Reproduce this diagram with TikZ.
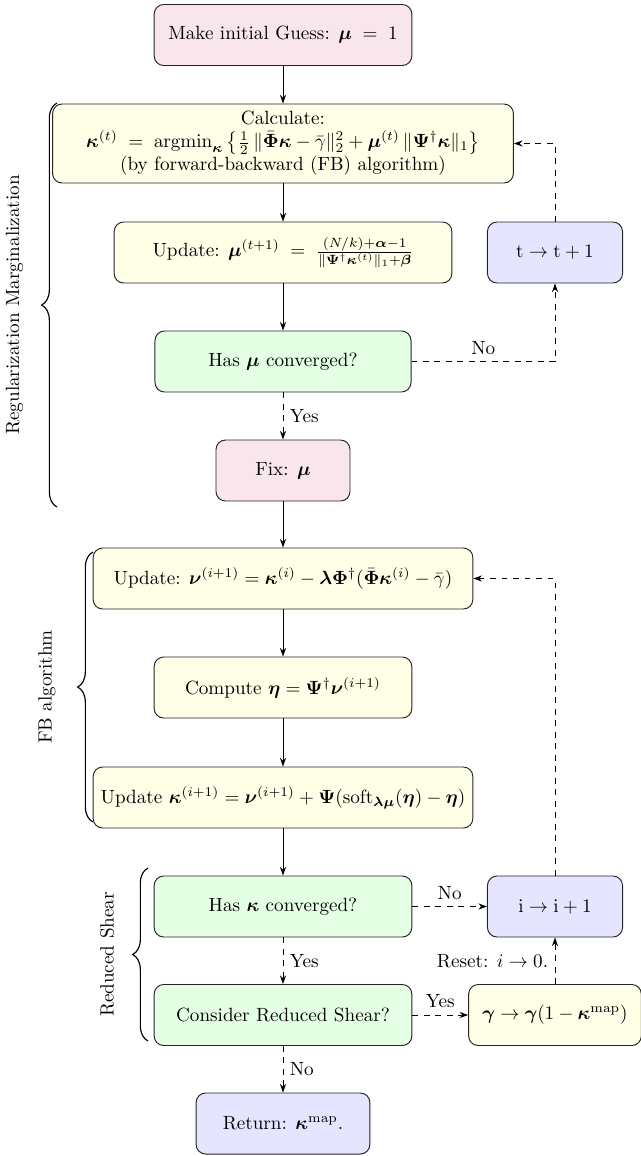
\documentclass[tikz,border=0pt]{standalone}
\usepackage{amsmath,bm}
\usetikzlibrary{arrows.meta,decorations.pathreplacing}
\begin{document}
\begin{tikzpicture}[x=0.018349cm,y=-0.018349cm,
  box/.style={draw=black!85, line width=0.5pt, rounded corners=5pt, align=center,
    minimum height=1.12cm, inner sep=2pt},
  pinkbox/.style={box, fill=purple!10},
  yellowbox/.style={box, fill=yellow!10},
  greenbox/.style={box, fill=green!10},
  bluebox/.style={box, fill=blue!10},
  arr/.style={-{Stealth[length=4.5pt,width=3.2pt]}, line width=0.5pt},
  darr/.style={arr, dashed},
  bracedec/.style={decorate, decoration={brace, amplitude=8pt}, line width=0.6pt},
  sidelabel/.style={rotate=90, anchor=center}
]
\useasboundingbox (0,0) rectangle (641,1156);

% main column
\node[pinkbox, minimum width=4.73cm] (guess) at (283,35) {Make initial Guess: $\bm{\mu}\;=\;1$};
\node[yellowbox, minimum width=8.46cm, minimum height=1.45cm] (calc) at (283,143.5)
  {Calculate:\\
   $\bm{\kappa}^{(t)} \;=\; \mathrm{argmin}_{\bm{\kappa}} \left\{ \frac{1}{2}\,\|\bar{\bm{\Phi}}\bm{\kappa} - \bar{\gamma}\|_2^2 + \bm{\mu}^{(t)}\,\|\bm{\Psi}^{\dagger}\bm{\kappa}\|_1 \right\}$\\
   (by forward-backward (FB) algorithm)};
\node[yellowbox, minimum width=6.20cm] (updmu) at (283,252.5)
  {Update: $\bm{\mu}^{(t+1)} \;=\; \frac{(N/k)+\bm{\alpha}-1}{\|\bm{\Psi}^{\dagger}\bm{\kappa}^{(t)}\|_1+\bm{\beta}}$};
\node[greenbox, minimum width=4.70cm] (hasmu) at (283,361.5) {Has $\bm{\mu}$ converged?};
\node[pinkbox, minimum width=2.46cm] (fixmu) at (283,470.5) {Fix: $\bm{\mu}$};
\node[yellowbox, minimum width=6.97cm] (updnu) at (283,578.5)
  {Update: $\bm{\nu}^{(i+1)} = \bm{\kappa}^{(i)} - \bm{\lambda}\bm{\Phi}^{\dagger}(\bar{\bm{\Phi}}\bm{\kappa}^{(i)} - \bar{\gamma})$};
\node[yellowbox, minimum width=4.73cm] (compute) at (283,687.5)
  {Compute $\bm{\eta} = \bm{\Psi}^{\dagger}\bm{\nu}^{(i+1)}$};
\node[yellowbox, minimum width=6.97cm] (updkappa) at (283,797.5)
  {Update $\bm{\kappa}^{(i+1)} = \bm{\nu}^{(i+1)} + \bm{\Psi}(\mathrm{soft}_{\bm{\lambda}\bm{\mu}}(\bm{\eta}) - \bm{\eta})$};
\node[greenbox, minimum width=4.73cm] (haskappa) at (283,906.5) {Has $\bm{\kappa}$ converged?};
\node[greenbox, minimum width=4.73cm] (consider) at (283,1015) {Consider Reduced Shear?};
\node[bluebox, minimum width=3.19cm] (return) at (283,1123.5) {Return: $\bm{\kappa}^{\mathrm{map}}$.};

% right column
\node[bluebox, minimum width=2.48cm] (tstep) at (555,252.5) {$\mathrm{t} \rightarrow \mathrm{t} + 1$};
\node[bluebox, minimum width=2.48cm] (istep) at (555,906.5) {$\mathrm{i} \rightarrow \mathrm{i} + 1$};
\node[yellowbox, minimum width=3.17cm] (shear) at (555,1015) {$\bm{\gamma} \rightarrow \bm{\gamma}(1 - \bm{\kappa}^{\mathrm{map}})$};

% solid connectors
\draw[arr] (guess) -- (calc);
\draw[arr] (calc) -- (updmu);
\draw[arr] (updmu) -- (hasmu);
\draw[arr] (fixmu) -- (updnu);
\draw[arr] (updnu) -- (compute);
\draw[arr] (compute) -- (updkappa);
\draw[arr] (updkappa) -- (haskappa);

% dashed connectors
\draw[darr] (hasmu) -- node[right]{Yes} (fixmu);
\draw[darr] (hasmu.east) -| node[pos=0.25, above]{No} (tstep.south);
\draw[darr] (tstep.north) |- (calc.east);
\draw[darr] (haskappa.east) -- node[above]{No} (istep.west);
\draw[darr] (istep.north) |- (updnu.east);
\draw[darr] (haskappa) -- node[right]{Yes} (consider);
\draw[darr] (consider.east) -- node[above]{Yes} (shear.west);
\draw[darr] (shear.north) -- node[left]{Reset: $i \rightarrow 0$.} (istep.south);
\draw[darr] (consider) -- node[right]{No} (return);

% braces
\coordinate (rmtop) at (57,103);
\coordinate (rmbot) at (57,507);
\draw[bracedec] (rmbot) -- (rmtop);
\node[sidelabel] (rmlabel) at (14.5,305) {Regularization Marginalization};

\coordinate (fbtop) at (93,552);
\coordinate (fbbot) at (93,822);
\draw[bracedec] (fbbot) -- (fbtop);
\node[sidelabel] (fblabel) at (47,687) {FB algorithm};

\coordinate (rstop) at (148,868);
\coordinate (rsbot) at (148,1041);
\draw[bracedec] (rsbot) -- (rstop);
\node[sidelabel] (rslabel) at (107,954.5) {Reduced Shear};
\end{tikzpicture}
\end{document}
